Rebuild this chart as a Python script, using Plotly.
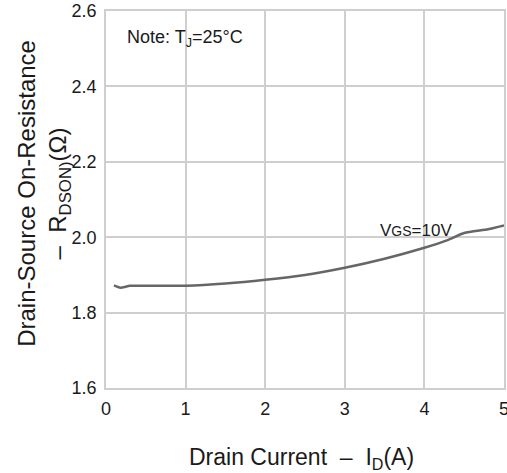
import plotly.graph_objects as go

# Data
drain_current = [0.1, 0.18, 0.3, 0.5, 0.8, 1.0, 1.5, 2.0, 2.5, 3.0, 3.5, 4.0, 4.3, 4.5, 4.8, 5.0]
r_dson = [1.872, 1.866, 1.871, 1.871, 1.871, 1.871, 1.877, 1.887, 1.900, 1.919, 1.943, 1.972, 1.993, 2.011, 2.021, 2.031]

x_ticks = [0, 1, 2, 3, 4, 5]
y_ticks = [1.6, 1.8, 2.0, 2.2, 2.4, 2.6]

FONT = "Liberation Sans, Arial, sans-serif"
GRID = "#cfcfcf"
TXT = "#1a1a1a"

fig = go.Figure()
fig.add_trace(go.Scatter(
    x=drain_current, y=r_dson, mode="lines",
    line=dict(color="#666666", width=2.5, shape="spline", smoothing=0.6),
    showlegend=False, hoverinfo="skip",
))

fig.update_layout(
    width=507, height=473,
    margin=dict(l=106, r=3, t=11, b=85),
    paper_bgcolor="white", plot_bgcolor="white",
    font=dict(family=FONT, color=TXT, size=18),
    xaxis=dict(
        range=[0, 5], tickvals=x_ticks, ticktext=[str(v) for v in x_ticks],
        showgrid=True, gridcolor=GRID, gridwidth=1.5,
        showline=True, linecolor=GRID, linewidth=1.5, mirror=True,
        zeroline=False, ticks="", ticklabelstandoff=4, automargin=False,
        ticklabeloverflow="allow",
        tickfont=dict(size=18, color=TXT),
    ),
    yaxis=dict(
        range=[1.6, 2.6], tickvals=y_ticks, ticktext=[f"{v:.1f}" for v in y_ticks],
        showgrid=True, gridcolor=GRID, gridwidth=1.5,
        showline=True, linecolor=GRID, linewidth=1.5, mirror=True,
        zeroline=False, ticks="", ticklabelstandoff=4, automargin=False,
        ticklabeloverflow="allow",
        tickfont=dict(size=18, color=TXT),
    ),
    annotations=[
        dict(x=0.24, y=2.526, xref="x", yref="y", xanchor="left", yanchor="middle",
             text="Note: T<sub>J</sub>=25°C", showarrow=False, font=dict(size=18, color=TXT)),
        dict(x=3.9, y=2.018, xref="x", yref="y", xanchor="center", yanchor="middle",
             text="V<span style='font-size:14px'>GS</span>=10V", showarrow=False,
             font=dict(size=17, color=TXT)),
        dict(x=0.49, y=0, xref="paper", yref="paper", xanchor="center", yanchor="middle",
             yshift=-70, text="Drain Current  \u2013  I<sub>D</sub>(A)", showarrow=False,
             font=dict(size=23, color=TXT)),
        dict(x=0, y=0.515, xref="paper", yref="paper", xanchor="center", yanchor="middle",
             xshift=-62, textangle=-90,
             text="Drain-Source On-Resistance<br>\u2013  R<sub>DSON)</sub>(\u03a9)", showarrow=False,
             font=dict(size=24, color=TXT)),
    ],
)

fig.write_html("out.html", config={"displayModeBar": False},
               post_script="document.body.style.margin='0px';")
